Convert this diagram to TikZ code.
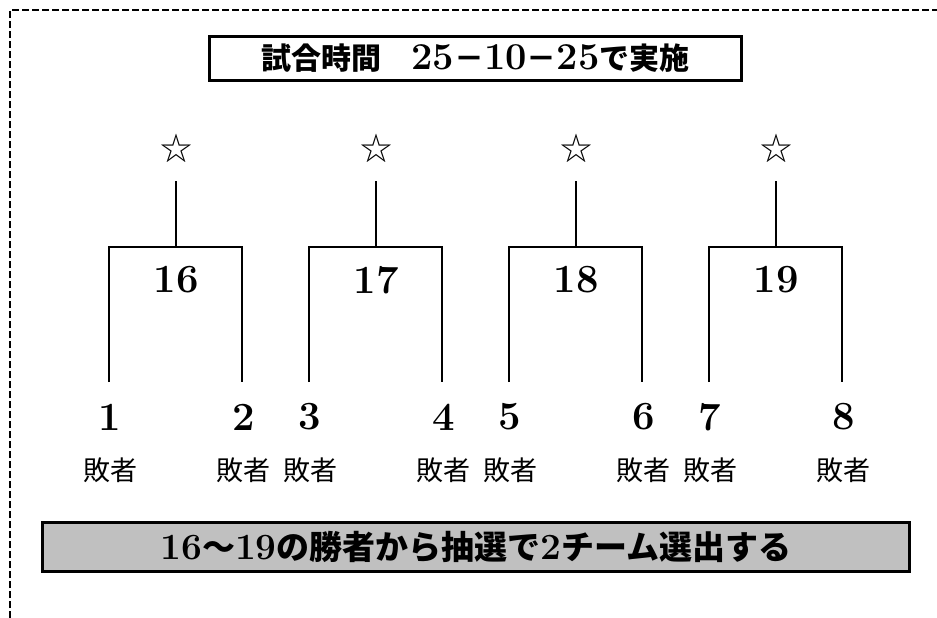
\documentclass[tikz,border=0pt]{standalone}
\usepackage{fontspec}
\newfontfamily\jp{Noto Sans CJK JP}
\usetikzlibrary{positioning}
\definecolor{boxgray}{HTML}{C0C0C0}
% digits in bold serif, a bit larger than the kana
\newcommand\dg[2][38]{{\rmfamily\bfseries\fontsize{#1}{#1}\selectfont #2}}

\begin{document}
\begin{tikzpicture}[x=1pt,y=-1pt,
	framedash/.style={line width=2.5pt,dash pattern=on 7pt off 3pt},
	titlebox/.style={draw,line width=3pt,fill=white,inner sep=0pt,
		minimum width=532pt,minimum height=44pt,
		font=\jp\bfseries\fontsize{30}{30}\selectfont},
	notebox/.style={draw,line width=3pt,fill=boxgray,inner sep=0pt,
		minimum width=867pt,minimum height=49pt,
		font=\jp\bfseries\fontsize{33}{33}\selectfont},
	bracket/.style={line width=2.5pt},
	starnode/.style={inner sep=0pt,font=\jp\fontsize{32}{32}\selectfont},
	matchlbl/.style={inner sep=0pt,font=\bfseries\fontsize{40}{40}\selectfont},
	teamnum/.style={inner sep=0pt,font=\bfseries\fontsize{40}{40}\selectfont},
	loser/.style={inner sep=0pt,font=\jp\fontsize{27}{27}\selectfont}
	]
	\useasboundingbox (0,0) rectangle (937,618);
	\fill[white] (0,0) rectangle (937,618);
	% dashed frame, top and left only
	\coordinate (fbot) at (10,618);
	\coordinate (fcorner) at (10,10);
	\coordinate (fright) at (937,10);
	\draw[framedash] (fbot) -- (fcorner) -- (fright);

	\node[titlebox] (title) at (475.5,58.5) {試合時間　\dg{25}－\dg{10}－\dg{25}で実施};

	\foreach \m/\cx/\a/\b in {16/176/1/2,17/376/3/4,18/576/5/6,19/776/7/8}{
		\node[starnode] (star\m) at (\cx,148) {☆};
		\node[matchlbl] (lbl\m) at (\cx,280) {\m};
		\node[teamnum] (team\a) at (\cx-66,417) {\a};
		\node[teamnum] (team\b) at (\cx+68,417) {\b};
		\node[loser] (lose\a) at (\cx-66,470) {敗者};
		\node[loser] (lose\b) at (\cx+67,470) {敗者};
		\coordinate (stem\m) at (\cx,181);
		\coordinate (top\m) at (\cx,247);
		\coordinate (leg\a) at (\cx-67,382);
		\coordinate (leg\b) at (\cx+66,382);
		\draw[bracket] (stem\m) -- (top\m);
		\draw[bracket] (leg\a) |- (top\m) -| (leg\b);
	}

	\node[notebox] (note) at (476,547) {\dg[37]{16}～\dg[37]{19}の勝者から抽選で\dg[37]{2}チーム選出する};
\end{tikzpicture}
\end{document}
